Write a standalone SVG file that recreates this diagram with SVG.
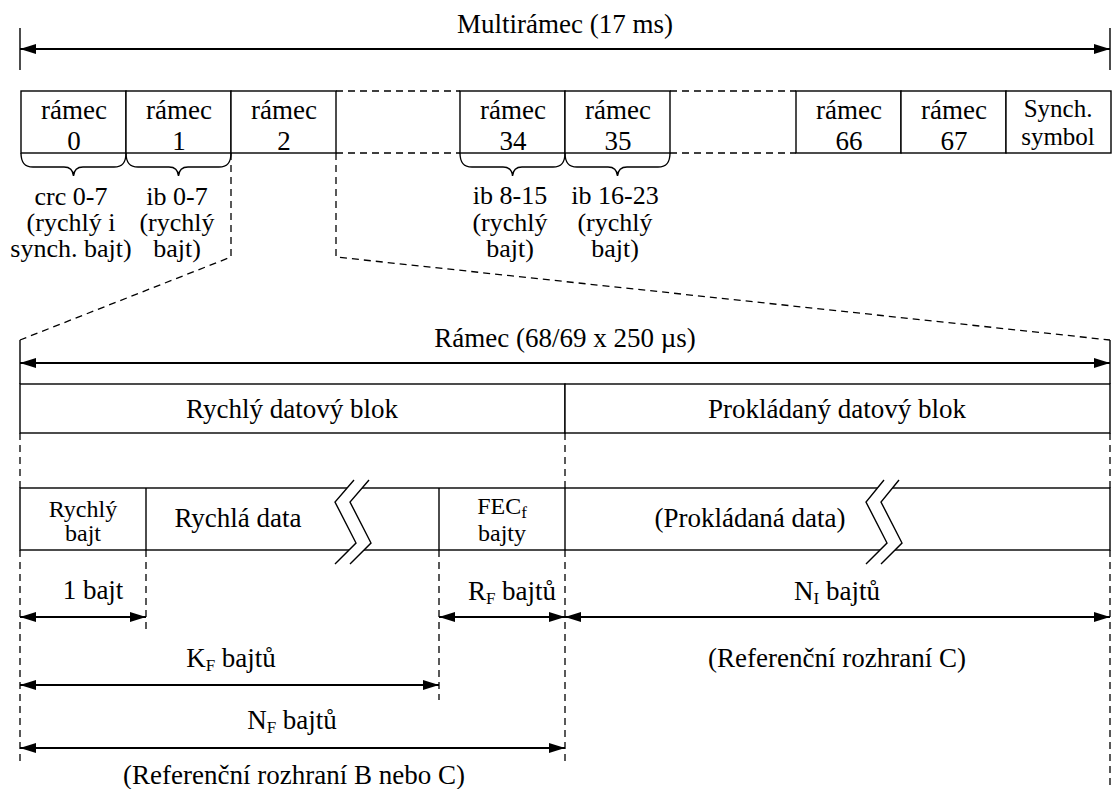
<svg xmlns="http://www.w3.org/2000/svg" width="1113" height="789" viewBox="0 0 1113 789" font-family="'Liberation Serif', 'DejaVu Serif', serif">
<style>
text{font-family:'Liberation Serif','DejaVu Serif',serif;fill:#000;text-anchor:middle}
.t27{font-size:27px}
.t26{font-size:26px}
.t25{font-size:25px}
.t24{font-size:24px}
.box{fill:#fff;stroke:#000;stroke-width:1.4}
.ln{fill:none;stroke:#000;stroke-width:1.4}
.dash{fill:none;stroke:#000;stroke-width:1.3;stroke-dasharray:7 5}
.arr{fill:none;stroke:#000;stroke-width:2.2;marker-start:url(#ah);marker-end:url(#ah)}
.brk{fill:none;stroke:#000;stroke-width:1.4}
.sub{font-size:17px}
</style>
<defs>
<marker id="ah" markerUnits="userSpaceOnUse" viewBox="0 0 16 10" refX="16" refY="5" markerWidth="16" markerHeight="10" orient="auto-start-reverse">
<path d="M0,0 L16,5 L0,10 Z" fill="#000"/>
</marker>
</defs>
<rect width="1113" height="789" fill="#fff"/>

<g id="connectors">
<line class="ln" x1="20" y1="28" x2="20" y2="70"/>
<line class="ln" x1="1110" y1="28" x2="1110" y2="70"/>
<line class="arr" x1="20" y1="49" x2="1110" y2="49"/>
<line class="dash" x1="336" y1="91" x2="460" y2="91"/>
<line class="dash" x1="336" y1="153" x2="460" y2="153"/>
<line class="dash" x1="670" y1="91" x2="796" y2="91"/>
<line class="dash" x1="670" y1="153" x2="796" y2="153"/>
<polyline class="dash" points="231,153 231,257 20,340"/>
<polyline class="dash" points="336,153 336,257 1110,340"/>
<line class="ln" x1="20" y1="340" x2="20" y2="384"/>
<line class="ln" x1="1110" y1="340" x2="1110" y2="384"/>
<line class="arr" x1="20" y1="363" x2="1110" y2="363"/>
<line class="dash" x1="20" y1="433" x2="20" y2="488"/>
<line class="dash" x1="565" y1="433" x2="565" y2="488"/>
<line class="dash" x1="1110" y1="433" x2="1110" y2="488"/>
<line class="dash" x1="20" y1="550" x2="20" y2="766"/>
<line class="dash" x1="146" y1="550" x2="146" y2="633"/>
<line class="dash" x1="439" y1="550" x2="439" y2="700"/>
<line class="dash" x1="565" y1="550" x2="565" y2="766"/>
<line class="dash" x1="1110" y1="550" x2="1110" y2="789"/>
<line class="arr" x1="20" y1="617" x2="146" y2="617"/>
<line class="arr" x1="439" y1="617" x2="565" y2="617"/>
<line class="arr" x1="565" y1="617" x2="1110" y2="617"/>
<line class="arr" x1="20" y1="685" x2="439" y2="685"/>
<line class="arr" x1="20" y1="748" x2="565" y2="748"/>
</g>

<g id="title">
<text class="t27" x="565" y="33">Multirámec (17 ms)</text>
</g>

<g id="frame0"><rect class="box" x="21" y="91" width="105" height="62"/><text class="t27" x="74" y="119">rámec</text><text class="t27" x="74" y="150">0</text></g>
<g id="frame1"><rect class="box" x="126" y="91" width="105" height="62"/><text class="t27" x="179" y="119">rámec</text><text class="t27" x="179" y="150">1</text></g>
<g id="frame2"><rect class="box" x="231" y="91" width="105" height="62"/><text class="t27" x="284" y="119">rámec</text><text class="t27" x="284" y="150">2</text></g>
<g id="frame34"><rect class="box" x="460" y="91" width="105" height="62"/><text class="t27" x="513" y="119">rámec</text><text class="t27" x="513" y="150">34</text></g>
<g id="frame35"><rect class="box" x="565" y="91" width="105" height="62"/><text class="t27" x="618" y="119">rámec</text><text class="t27" x="618" y="150">35</text></g>
<g id="frame66"><rect class="box" x="796" y="91" width="105" height="62"/><text class="t27" x="849" y="119">rámec</text><text class="t27" x="849" y="150">66</text></g>
<g id="frame67"><rect class="box" x="901" y="91" width="105" height="62"/><text class="t27" x="954" y="119">rámec</text><text class="t27" x="954" y="150">67</text></g>
<g id="synch"><rect class="box" x="1006" y="91" width="105" height="62"/><text class="t25" x="1058" y="117">Synch.</text><text class="t25" x="1058" y="145">symbol</text></g>

<g id="brace0">
<path class="ln" d="M21,153 C21,162 24,167 33,167 L64,167 C70,167 73,170 73.5,176 C74,170 77,167 83,167 L114,167 C123,167 126,162 126,153"/>
<text class="t26" x="71" y="205">crc 0-7</text><text class="t26" x="71" y="231">(rychlý i</text><text class="t26" x="71" y="257">synch. bajt)</text>
</g>
<g id="brace1">
<path class="ln" d="M126,153 C126,162 129,167 138,167 L169,167 C175,167 178,170 178.5,176 C179,170 182,167 188,167 L219,167 C228,167 231,162 231,153"/>
<text class="t26" x="177" y="205">ib 0-7</text><text class="t26" x="177" y="231">(rychlý</text><text class="t26" x="177" y="257">bajt)</text>
</g>
<g id="brace34">
<path class="ln" d="M460,153 C460,162 463,167 472,167 L503,167 C509,167 512,170 512.5,176 C513,170 516,167 522,167 L553,167 C562,167 565,162 565,153"/>
<text class="t26" x="510" y="204">ib 8-15</text><text class="t26" x="510" y="231">(rychlý</text><text class="t26" x="510" y="257">bajt)</text>
</g>
<g id="brace35">
<path class="ln" d="M565,153 C565,162 568,167 577,167 L608,167 C614,167 617,170 617.5,176 C618,170 621,167 627,167 L658,167 C667,167 670,162 670,153"/>
<text class="t26" x="615" y="204">ib 16-23</text><text class="t26" x="615" y="231">(rychlý</text><text class="t26" x="615" y="257">bajt)</text>
</g>

<g id="frame-label">
<text class="t27" x="565" y="347">Rámec (68/69 x 250 µs)</text>
</g>

<g id="fast-block"><rect class="box" x="20" y="384" width="545" height="49"/><text class="t27" x="292" y="418">Rychlý datový blok</text></g>
<g id="interleaved-block"><rect class="box" x="565" y="384" width="545" height="49"/><text class="t27" x="837" y="418">Prokládaný datový blok</text></g>

<g id="data-row">
<rect class="box" x="20" y="488" width="1090" height="62"/>
<line class="ln" x1="146" y1="488" x2="146" y2="550"/>
<line class="ln" x1="439" y1="488" x2="439" y2="550"/>
<line class="ln" x1="565" y1="488" x2="565" y2="550"/>
</g>
<g id="fast-byte"><text class="t24" x="83" y="517">Rychlý</text><text class="t24" x="83" y="541">bajt</text></g>
<g id="fast-data"><text class="t27" x="238" y="527">Rychlá data</text></g>
<g id="fec-bytes"><text class="t24" x="502" y="514">FEC<tspan class="sub" dy="4">f</tspan></text><text class="t24" x="502" y="541">bajty</text></g>
<g id="interleaved-data"><text class="t27" x="750" y="527">(Prokládaná data)</text></g>

<g id="break1">
<polygon fill="#fff" points="354,480 335,502 356,543 335,564 350,564 371,543 350,502 369,480"/>
<polyline class="brk" points="354,480 335,502 356,543 335,564"/>
<polyline class="brk" points="369,480 350,502 371,543 350,564"/>
</g>
<g id="break2">
<polygon fill="#fff" points="884,480 866,502 887,543 866,564 881,564 902,543 881,502 899,480"/>
<polyline class="brk" points="884,480 866,502 887,543 866,564"/>
<polyline class="brk" points="899,480 881,502 902,543 881,564"/>
</g>

<g id="dim-labels">
<text class="t27" x="93" y="599">1 bajt</text>
<text class="t27" x="512" y="600">R<tspan class="sub" dy="4">F</tspan><tspan dy="-4"> bajtů</tspan></text>
<text class="t27" x="837" y="600">N<tspan class="sub" dy="4">I</tspan><tspan dy="-4"> bajtů</tspan></text>
<text class="t27" x="837" y="667">(Referenční rozhraní C)</text>
<text class="t27" x="231" y="667">K<tspan class="sub" dy="4">F</tspan><tspan dy="-4"> bajtů</tspan></text>
<text class="t27" x="292" y="729">N<tspan class="sub" dy="4">F</tspan><tspan dy="-4"> bajtů</tspan></text>
<text class="t27" x="294" y="784">(Referenční rozhraní B nebo C)</text>
</g>
</svg>
